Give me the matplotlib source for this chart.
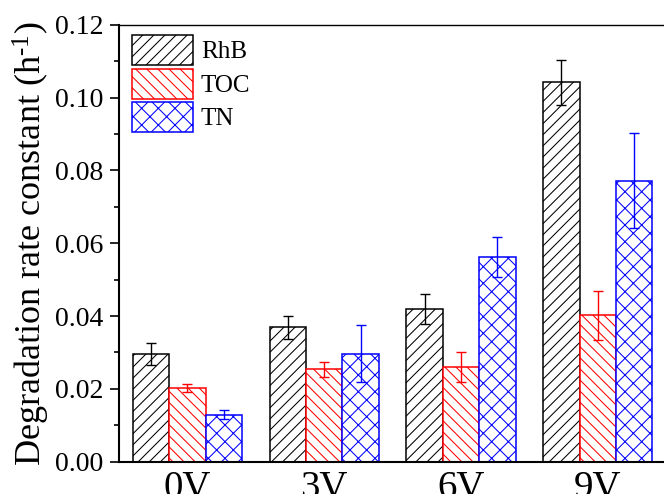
import matplotlib
matplotlib.use("Agg")
import matplotlib.pyplot as plt
import numpy as np

categories = ["0V", "3V", "6V", "9V"]
series_names = ["RhB", "TOC", "TN"]
rhb = [0.0295, 0.0369, 0.0419, 0.1042]
rhb_err = [0.0030, 0.0032, 0.0042, 0.0061]
toc = [0.0201, 0.0253, 0.0259, 0.0402]
toc_err = [0.0011, 0.0020, 0.0041, 0.0067]
tn = [0.0129, 0.0296, 0.0563, 0.0772]
tn_err = [0.0012, 0.0078, 0.0055, 0.0130]
yticks = [0.00, 0.02, 0.04, 0.06, 0.08, 0.10, 0.12]

colors = ["black", "red", "blue"]
hatches = ["///", "\\\\\\", "xx"]

plt.rcParams["font.family"] = ["Liberation Serif", "DejaVu Serif"]
plt.rcParams["mathtext.fontset"] = "custom"
plt.rcParams["mathtext.rm"] = "Liberation Serif"
plt.rcParams["mathtext.it"] = "Liberation Serif:italic"
plt.rcParams["hatch.linewidth"] = 0.75

fig = plt.figure(figsize=(6.64, 4.94), dpi=100)
ax = fig.add_axes([119 / 664, 32.5 / 494, 547.2 / 664, 436.5 / 494])

x = np.arange(len(categories))
w = 0.266
data = [(rhb, rhb_err), (toc, toc_err), (tn, tn_err)]
for i, ((vals, errs), name) in enumerate(zip(data, series_names)):
    pos = x + (i - 1) * w
    ax.bar(pos, vals, width=w, facecolor="white", edgecolor=colors[i],
           hatch=hatches[i], linewidth=1.1, label=name, zorder=2)
    ax.errorbar(pos, vals, yerr=errs, fmt="none", ecolor=colors[i],
                elinewidth=1.0, capsize=3.5, capthick=1.0, zorder=3)

ax.set_xlim(-0.5, 3.5)
ax.set_ylim(0, 0.12)
ax.set_yticks(yticks)
ax.set_yticklabels([f"{v:.2f}" for v in yticks])
ax.set_yticks(np.arange(0.01, 0.12, 0.02), minor=True)
ax.set_xticks(x)
ax.set_xticklabels(categories)

ax.tick_params(axis="y", which="major", direction="out", length=6.5, width=1.2,
               labelsize=20, pad=5)
ax.tick_params(axis="y", which="minor", direction="out", length=3.5, width=1.2)
ax.tick_params(axis="x", which="both", length=0, labelsize=28, pad=6)

for side in ["left", "bottom"]:
    ax.spines[side].set_linewidth(1.5)
ax.spines["top"].set_linewidth(1.0)
ax.spines["right"].set_visible(False)

ax.set_ylabel("Degradation rate constant (h$^{\\text{-}1}$)", fontsize=26, labelpad=2)

ax.legend(loc="upper left", bbox_to_anchor=(0.0238, 0.977), frameon=False,
          fontsize=18, handlelength=2.45, handleheight=1.47, labelspacing=0.14,
          handletextpad=0.3, borderpad=0, borderaxespad=0)

fig.savefig("out.png", dpi=100)
